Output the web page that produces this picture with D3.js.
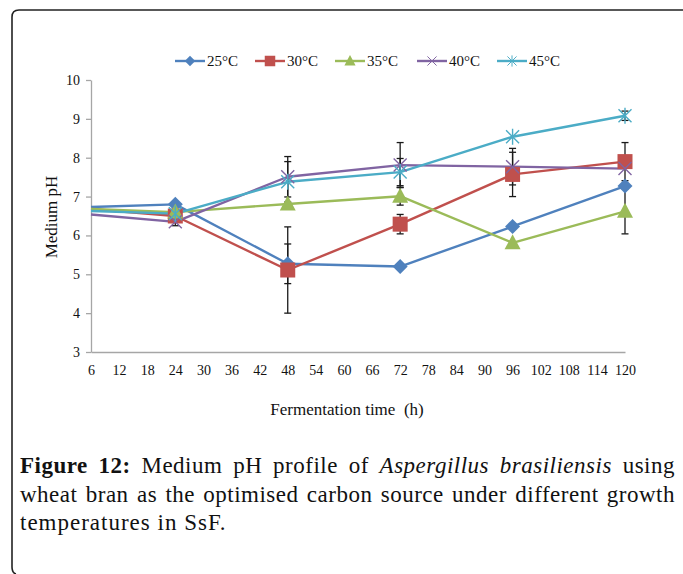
<!DOCTYPE html>
<html>
<head>
<meta charset="utf-8">
<script src="https://cdn.jsdelivr.net/npm/d3@7"></script>
<style>
  html, body { margin: 0; padding: 0; background: #fff; }
  #wrap { position: relative; width: 683px; height: 574px; overflow: hidden; }
  svg { position: absolute; left: 0; top: 0; }
  #caption {
    position: absolute; left: 20px; top: 452px; width: 655px;
    font-family: "Liberation Serif", "Times New Roman", serif;
    font-size: 23px; line-height: 28.5px; color: #111; letter-spacing: 0.5px;
  }
  #caption .ln { text-align: justify; text-align-last: justify; white-space: nowrap; }
  #caption .ln.last { text-align-last: left; letter-spacing: 1px; }
</style>
</head>
<body>
<div id="wrap">
  <svg id="chart" width="683" height="574"></svg>
  <div id="caption">
    <div class="ln"><b>Figure 12:</b> Medium pH profile of <i>Aspergillus brasiliensis</i> using</div>
    <div class="ln">wheat bran as the optimised carbon source under different growth</div>
    <div class="ln last">temperatures in SsF.</div>
  </div>
</div>
<script>
// Sampling times (h) and axis ticks
const times = [6, 24, 48, 72, 96, 120];
const xTicks = d3.range(6, 121, 6);
const yTicks = [3, 4, 5, 6, 7, 8, 9, 10];

// Medium pH at each time, per growth temperature
const seriesNames = ["25°C", "30°C", "35°C", "40°C", "45°C"];
const pH25 = [6.73, 6.80, 5.27, 5.20, 6.23, 7.27];
const pH30 = [6.68, 6.50, 5.11, 6.29, 7.57, 7.90];
const pH35 = [6.68, 6.60, 6.81, 7.01, 5.81, 6.62];
const pH40 = [6.54, 6.35, 7.51, 7.81, 7.77, 7.72];
const pH45 = [6.63, 6.56, 7.38, 7.63, 8.54, 9.08];

// Standard deviations (± error bars)
const sd25 = [0, 0, 0.51, 0, 0, 0];
const sd30 = [0, 0, 1.11, 0.25, 0.57, 0.49];
const sd35 = [0, 0, 0, 0.23, 0, 0.58];
const sd40 = [0, 0.10, 0.52, 0.58, 0.47, 0];
const sd45 = [0, 0, 0.52, 0.35, 0, 0.12];

const colors = ["#4F81BD", "#C0504D", "#9BBB59", "#8064A2", "#4BACC6"];
const shapes = ["diamond", "square", "triangle", "x", "star"];

const series = seriesNames.map((name, i) => ({
  name,
  color: colors[i],
  shape: shapes[i],
  values: [pH25, pH30, pH35, pH40, pH45][i].map((v, j) => ({
    t: times[j], v, sd: [sd25, sd30, sd35, sd40, sd45][i][j]
  }))
}));

const svg = d3.select("#chart");
const serif = "'Liberation Serif', 'Times New Roman', serif";

// Frame around the figure
svg.append("path")
  .attr("d", "M683,10 H19 Q12,10 12,17 V567 Q12,573 16,574")
  .attr("fill", "none").attr("stroke", "#222").attr("stroke-width", 1.6);

const x = d3.scaleLinear().domain([6, 120]).range([91, 625]);
const y = d3.scaleLinear().domain([3, 10]).range([352, 80]);

// Y axis
const yAxis = svg.append("g").attr("transform", `translate(${x(6)},0)`)
  .call(d3.axisLeft(y).tickValues(yTicks).tickFormat(d3.format("d"))
    .tickSize(5).tickSizeOuter(0).tickPadding(6));
yAxis.select(".domain").attr("stroke", "#A6A6A6").attr("stroke-width", 1.3);
yAxis.selectAll(".tick line").attr("stroke", "#A6A6A6").attr("stroke-width", 1.3);
yAxis.selectAll("text").attr("font-family", serif).attr("font-size", 14).attr("fill", "#111");

// X axis (no tick marks)
const xAxis = svg.append("g").attr("transform", `translate(0,${y(3)})`)
  .call(d3.axisBottom(x).tickValues(xTicks).tickFormat(d3.format("d"))
    .tickSize(0).tickSizeOuter(0).tickPadding(13));
xAxis.select(".domain").attr("stroke", "#A6A6A6").attr("stroke-width", 1.3);
xAxis.selectAll("text").attr("font-family", serif).attr("font-size", 14).attr("fill", "#111");

// Axis titles
svg.append("text")
  .attr("transform", `translate(57,217) rotate(-90)`)
  .attr("text-anchor", "middle")
  .attr("font-family", serif).attr("font-size", 17).attr("fill", "#111")
  .text("Medium pH");
svg.append("text")
  .attr("x", 347).attr("y", 415)
  .attr("text-anchor", "middle").attr("xml:space", "preserve")
  .attr("font-family", serif).attr("font-size", 17).attr("fill", "#111")
  .text("Fermentation time  (h)");

// Series lines
const line = d3.line().x(d => x(d.t)).y(d => y(d.v));
svg.append("g").selectAll("path").data(series).join("path")
  .attr("d", d => line(d.values))
  .attr("fill", "none").attr("stroke", d => d.color).attr("stroke-width", 2.4)
  .attr("stroke-linejoin", "round");

// Error bars
const errs = series.flatMap(s => s.values.filter(d => d.sd > 0));
const eg = svg.append("g").attr("stroke", "#1a1a1a").attr("stroke-width", 1.3);
errs.forEach(d => {
  const cx = x(d.t), y1 = y(d.v + d.sd), y2 = y(d.v - d.sd);
  eg.append("line").attr("x1", cx).attr("x2", cx).attr("y1", y1).attr("y2", y2);
  eg.append("line").attr("x1", cx - 3.5).attr("x2", cx + 3.5).attr("y1", y1).attr("y2", y1);
  eg.append("line").attr("x1", cx - 3.5).attr("x2", cx + 3.5).attr("y1", y2).attr("y2", y2);
});

// Marker drawing
function marker(g, shape, color, cx, cy) {
  const s = 7.5;
  if (shape === "diamond") {
    g.append("path").attr("d", `M${cx},${cy - s} L${cx + s},${cy} L${cx},${cy + s} L${cx - s},${cy} Z`)
      .attr("fill", color);
  } else if (shape === "square") {
    g.append("rect").attr("x", cx - 7.5).attr("y", cy - 7.5).attr("width", 15).attr("height", 15)
      .attr("fill", color);
  } else if (shape === "triangle") {
    g.append("path").attr("d", `M${cx},${cy - 8.5} L${cx + 8},${cy + 6.5} L${cx - 8},${cy + 6.5} Z`)
      .attr("fill", color);
  } else if (shape === "x") {
    const r = 6.5;
    g.append("path").attr("d", `M${cx - r},${cy - r} L${cx + r},${cy + r} M${cx - r},${cy + r} L${cx + r},${cy - r}`)
      .attr("stroke", color).attr("stroke-width", 1.4).attr("fill", "none");
  } else if (shape === "star") {
    const r = 6.5;
    g.append("path").attr("d", `M${cx - r},${cy - r} L${cx + r},${cy + r} M${cx - r},${cy + r} L${cx + r},${cy - r} M${cx},${cy - r - 1.5} L${cx},${cy + r + 1.5}`)
      .attr("stroke", color).attr("stroke-width", 1.4).attr("fill", "none");
  }
}

// Markers (none at the starting time on the axis)
const mg = svg.append("g");
series.forEach(s => {
  s.values.slice(1).forEach(d => marker(mg, s.shape, s.color, x(d.t), y(d.v)));
});

// Legend
const legendX = [175, 255, 335, 417, 497];
const lg = svg.append("g");
series.forEach((s, i) => {
  const lx = legendX[i], ly = 61;
  lg.append("line").attr("x1", lx).attr("x2", lx + 30).attr("y1", ly).attr("y2", ly)
    .attr("stroke", s.color).attr("stroke-width", 2.4);
  const mgl = lg.append("g");
  const sc = 0.7;
  mgl.attr("transform", `translate(${lx + 15},${ly}) scale(${sc}) translate(${-(lx + 15)},${-ly})`);
  marker(mgl, s.shape, s.color, lx + 15, ly);
  lg.append("text").attr("x", lx + 32).attr("y", ly + 5)
    .attr("font-family", serif).attr("font-size", 15).attr("fill", "#111")
    .text(s.name);
});
</script>
</body>
</html>
